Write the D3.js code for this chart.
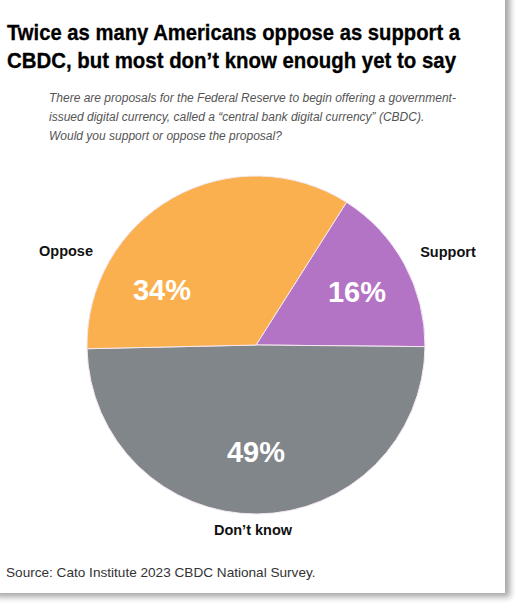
<!DOCTYPE html>
<html>
<head>
<meta charset="utf-8">
<script src="https://cdn.jsdelivr.net/npm/d3@7"></script>
<style>
  body { margin: 0; background: #fff; }
  svg { display: block; }
</style>
</head>
<body>
<div id="chart"></div>
<script>
// survey answers, in the order they go round the pie
var answers = ["Support", "Don\u2019t know", "Oppose"];
var shares = [16, 49, 34];
var sliceColors = ["#b474c5", "#80868a", "#fab04e"];

var titleLines = [
  "Twice as many Americans oppose as support a",
  "CBDC, but most don\u2019t know enough yet to say"
];
var questionLines = [
  "There are proposals for the Federal Reserve to begin offering a government-",
  "issued digital currency, called a \u201ccentral bank digital currency\u201d (CBDC).",
  "Would you support or oppose the proposal?"
];
var sourceText = "Source: Cato Institute 2023 CBDC National Survey.";

var width = 520, height = 609;
var cx = 256, cy = 345, radius = 169;

var svg = d3.select("#chart").append("svg")
    .attr("width", width)
    .attr("height", height);

// card shadow
var defs = svg.append("defs");
var blur = defs.append("filter").attr("id", "shadow")
    .attr("x", "-5%").attr("y", "-5%").attr("width", "115%").attr("height", "115%");
blur.append("feDropShadow")
    .attr("dx", 5).attr("dy", 4).attr("stdDeviation", 3)
    .attr("flood-color", "#000").attr("flood-opacity", 0.35);

svg.append("rect")
    .attr("x", -10).attr("y", -10)
    .attr("width", 515).attr("height", 603)
    .attr("fill", "#fff")
    .attr("filter", "url(#shadow)");

// title
svg.append("g").selectAll("text")
  .data(titleLines)
  .enter().append("text")
    .attr("x", 7)
    .attr("y", function(d, i) { return 40 + i * 28; })
    .attr("textLength", function(d, i) { return i == 0 ? 453 : 449; })
    .attr("lengthAdjust", "spacingAndGlyphs")
    .style("font-family", "'Liberation Sans', Arial, sans-serif")
    .style("font-weight", "bold")
    .style("font-size", "21.5px")
    .attr("fill", "#000")
    .attr("stroke", "#000")
    .attr("stroke-width", 0.3)
    .text(function(d) { return d; });

// question
svg.append("g").selectAll("text")
  .data(questionLines)
  .enter().append("text")
    .attr("x", 49)
    .attr("y", function(d, i) { return 102 + i * 19; })
    .style("font-family", "'Liberation Sans', Arial, sans-serif")
    .style("font-style", "italic")
    .style("font-size", "12px")
    .attr("fill", "#555")
    .text(function(d) { return d; });

// pie
var pie = d3.pie()
    .sort(null)
    .value(function(d) { return d; })
    .startAngle(0.565)
    .endAngle(0.565 + 2 * Math.PI);

var arc = d3.arc().innerRadius(0).outerRadius(radius);

var pieG = svg.append("g").attr("transform", "translate(" + cx + "," + cy + ")");
var arcs = pie(shares);

pieG.selectAll("path")
  .data(arcs)
  .enter().append("path")
    .attr("d", arc)
    .attr("fill", function(d, i) { return sliceColors[i]; })
    .attr("stroke", "#f4e8f0")
    .attr("stroke-width", 1);

// percent inside each slice
var percentPos = [[101, -43], [0, 117], [-94, -45]];
pieG.selectAll("text.pct")
  .data(arcs)
  .enter().append("text")
    .attr("class", "pct")
    .attr("x", function(d, i) { return percentPos[i][0]; })
    .attr("y", function(d, i) { return percentPos[i][1]; })
    .attr("text-anchor", "middle")
    .style("font-family", "'Liberation Sans', Arial, sans-serif")
    .style("font-weight", "bold")
    .style("font-size", "29px")
    .attr("fill", "#fff")
    .text(function(d) { return d.data + "%"; });

// answer names outside the pie
var namePos = [[448, 257], [253, 535], [66, 256]];
svg.append("g").selectAll("text")
  .data(answers)
  .enter().append("text")
    .attr("x", function(d, i) { return namePos[i][0]; })
    .attr("y", function(d, i) { return namePos[i][1]; })
    .attr("text-anchor", "middle")
    .style("font-family", "'Liberation Sans', Arial, sans-serif")
    .style("font-weight", "bold")
    .style("font-size", "14.5px")
    .attr("fill", "#111")
    .text(function(d) { return d; });

// source
svg.append("text")
    .attr("x", 6)
    .attr("y", 577)
    .style("font-family", "'Liberation Sans', Arial, sans-serif")
    .style("font-size", "13.6px")
    .attr("fill", "#333")
    .text(sourceText);
</script>
</body>
</html>
